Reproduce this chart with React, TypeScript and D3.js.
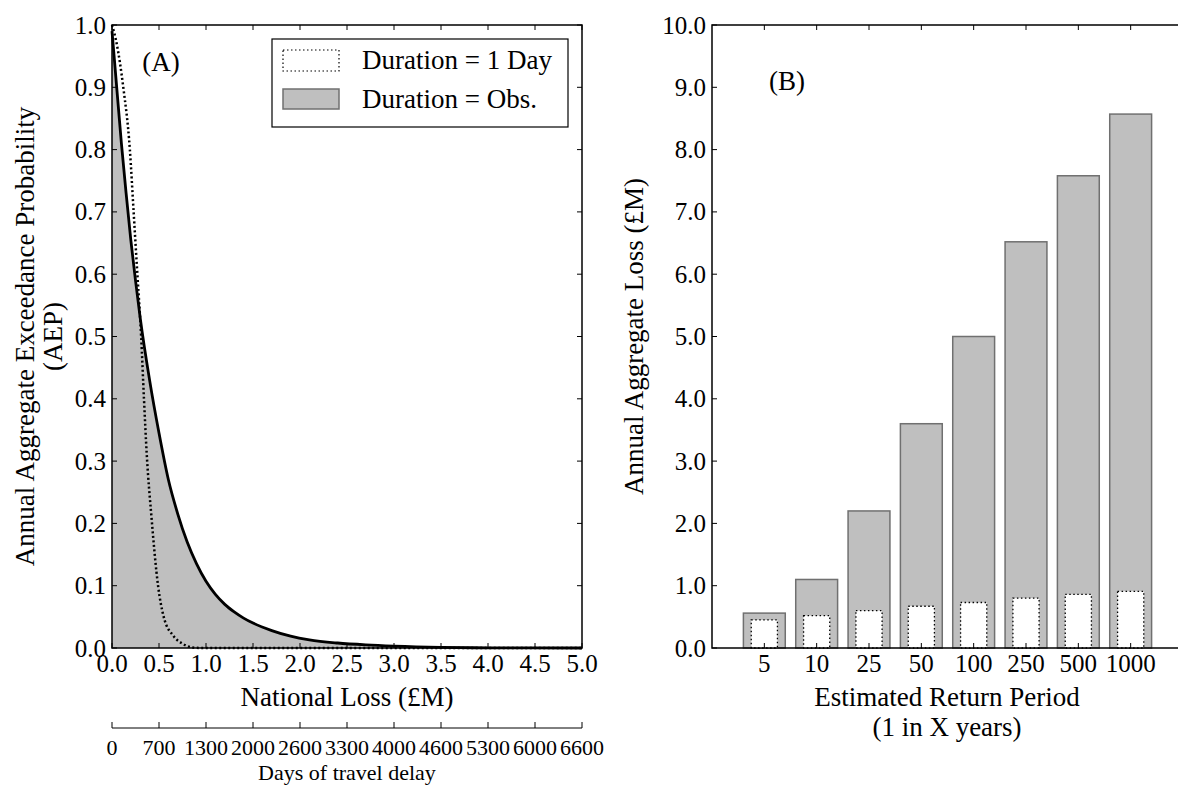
import React from "react";
import * as d3 from "d3";

// Panel A: aggregate exceedance probability curves (loss in £M)
const lossObs = [0, 0.05, 0.1, 0.15, 0.2, 0.25, 0.3, 0.4, 0.5, 0.6, 0.7, 0.8, 0.9, 1.0, 1.1, 1.2, 1.3, 1.4, 1.5, 1.7, 1.9, 2.1, 2.4, 2.7, 3.0, 3.5, 4.0, 5.0];
const aepObs = [0.99, 0.9, 0.81, 0.73, 0.655, 0.59, 0.53, 0.43, 0.345, 0.27, 0.215, 0.17, 0.135, 0.107, 0.086, 0.07, 0.058, 0.048, 0.04, 0.028, 0.019, 0.013, 0.008, 0.005, 0.003, 0.001, 0.0003, 0];
const loss1Day = [0, 0.05, 0.12, 0.19, 0.23, 0.27, 0.31, 0.34, 0.37, 0.42, 0.49, 0.55, 0.65, 0.75, 0.85, 0.95, 5.0];
const aep1Day = [1.0, 0.97, 0.9, 0.8, 0.7, 0.6, 0.5, 0.4, 0.31, 0.21, 0.1, 0.05, 0.02, 0.007, 0.001, 0, 0];
const lossTicks = [0, 0.5, 1, 1.5, 2, 2.5, 3, 3.5, 4, 4.5, 5];
const aepTicks = [0, 0.1, 0.2, 0.3, 0.4, 0.5, 0.6, 0.7, 0.8, 0.9, 1.0];
const delayTicks = ["0", "700", "1300", "2000", "2600", "3300", "4000", "4600", "5300", "6000", "6600"];

// Panel B: annual aggregate loss by return period (£M)
const returnPeriods = ["5", "10", "25", "50", "100", "250", "500", "1000"];
const aalObs = [0.56, 1.1, 2.2, 3.6, 5.0, 6.52, 7.58, 8.57];
const aal1Day = [0.45, 0.52, 0.6, 0.67, 0.73, 0.8, 0.86, 0.91];
const aalTicks = [0, 1, 2, 3, 4, 5, 6, 7, 8, 9, 10];

const FONT = "'Liberation Serif', 'Times New Roman', serif";
const GREY = "#bfbfbf";
const EDGE = "#707070";
const TICK = 5;

export default function App() {
  const top = 25, bottom = 648;
  const xA = d3.scaleLinear().domain([0, 5]).range([112, 582]);
  const yA = d3.scaleLinear().domain([0, 1]).range([bottom, top]);
  const xB = d3.scaleLinear().domain([0, 9]).range([712, 1183]);
  const yB = d3.scaleLinear().domain([0, 10]).range([bottom, top]);
  const xDelay = d3.scalePoint<string>().domain(delayTicks).range([112, 582]);

  const obsPts: [number, number][] = lossObs.map((x, i) => [x, aepObs[i]]);
  const dayPts: [number, number][] = loss1Day.map((x, i) => [x, aep1Day[i]]);

  const line = d3.line<[number, number]>().x(d => xA(d[0])).y(d => yA(d[1])).curve(d3.curveMonotoneX);
  const area = d3.area<[number, number]>().x(d => xA(d[0])).y0(yA(0)).y1(d => yA(d[1])).curve(d3.curveMonotoneX);

  const f1 = d3.format(".1f");
  const tickFs = 25;
  const titleFs = 27;

  return (
    <svg width={1178} height={785} style={{ position: "absolute", left: 0, top: 0, display: "block" }} fontFamily={FONT}>
      <rect x={0} y={0} width={1178} height={785} fill="#fff" />

      {/* ---------- Panel A ---------- */}
      <path d={area(obsPts) || ""} fill={GREY} stroke="none" />
      <path d={line(dayPts) || ""} fill="none" stroke="#000" strokeWidth={2.5} strokeDasharray="2,2.5" />
      <path d={line(obsPts) || ""} fill="none" stroke="#000" strokeWidth={2.8} />

      {lossTicks.map(t => (
        <g key={"ax" + t}>
          <line x1={xA(t)} x2={xA(t)} y1={bottom} y2={bottom - TICK} stroke="#000" strokeWidth={1} />
          <line x1={xA(t)} x2={xA(t)} y1={top} y2={top + TICK} stroke="#000" strokeWidth={1} />
          <text x={xA(t)} y={bottom + 24} fontSize={tickFs} textAnchor="middle">{f1(t)}</text>
        </g>
      ))}
      {aepTicks.map(t => (
        <g key={"ay" + t}>
          <line x1={112} x2={112 + TICK} y1={yA(t)} y2={yA(t)} stroke="#000" strokeWidth={1} />
          <line x1={582} x2={582 - TICK} y1={yA(t)} y2={yA(t)} stroke="#000" strokeWidth={1} />
          <text x={106} y={yA(t) + 8.5} fontSize={tickFs} textAnchor="end">{f1(t)}</text>
        </g>
      ))}
      <rect x={112} y={top} width={470} height={bottom - top} fill="none" stroke="#000" strokeWidth={1.5} />

      <text x={161} y={71} fontSize={titleFs} textAnchor="middle">(A)</text>

      {/* legend */}
      <rect x={272} y={39} width={296} height={88} fill="#fff" stroke="#000" strokeWidth={1.2} />
      <rect x={283} y={50} width={56} height={21} fill="#fff" stroke="#000" strokeWidth={1.2} strokeDasharray="1.5,2.5" />
      <rect x={283} y={89} width={56} height={20} fill={GREY} stroke={EDGE} strokeWidth={1.5} />
      <text x={362} y={69} fontSize={titleFs}>Duration = 1 Day</text>
      <text x={362} y={108} fontSize={titleFs}>Duration = Obs.</text>

      <text x={347} y={706} fontSize={titleFs} textAnchor="middle">National Loss (£M)</text>
      <text transform={`translate(34,${(top + bottom) / 2}) rotate(-90)`} fontSize={titleFs} textAnchor="middle">Annual Aggregate Exceedance Probability</text>
      <text transform={`translate(62,${(top + bottom) / 2}) rotate(-90)`} fontSize={titleFs} textAnchor="middle">(AEP)</text>

      {/* secondary axis: days of travel delay */}
      <line x1={112} x2={582} y1={728} y2={728} stroke="#000" strokeWidth={1} />
      {delayTicks.map(t => (
        <g key={"d" + t}>
          <line x1={xDelay(t)} x2={xDelay(t)} y1={728} y2={722} stroke="#000" strokeWidth={1} />
          <text x={xDelay(t)} y={755} fontSize={22} textAnchor="middle">{t}</text>
        </g>
      ))}
      <text x={347} y={780} fontSize={22} textAnchor="middle">Days of travel delay</text>

      {/* ---------- Panel B ---------- */}
      {returnPeriods.map((rp, i) => {
        const c = i + 1;
        return (
          <g key={"b" + rp}>
            <rect x={xB(c - 0.4)} y={yB(aalObs[i])} width={xB(c + 0.4) - xB(c - 0.4)} height={bottom - yB(aalObs[i])} fill={GREY} stroke={EDGE} strokeWidth={1.5} />
            <rect x={xB(c - 0.25)} y={yB(aal1Day[i])} width={xB(c + 0.25) - xB(c - 0.25)} height={bottom - yB(aal1Day[i])} fill="#fff" stroke="#000" strokeWidth={1.3} strokeDasharray="1.5,2.5" />
            <line x1={xB(c)} x2={xB(c)} y1={bottom} y2={bottom - TICK} stroke="#000" strokeWidth={1} />
            <line x1={xB(c)} x2={xB(c)} y1={top} y2={top + TICK} stroke="#000" strokeWidth={1} />
            <text x={xB(c)} y={bottom + 24} fontSize={tickFs} textAnchor="middle">{rp}</text>
          </g>
        );
      })}
      {aalTicks.map(t => (
        <g key={"by" + t}>
          <line x1={712} x2={712 + TICK} y1={yB(t)} y2={yB(t)} stroke="#000" strokeWidth={1} />
          <line x1={1183} x2={1183 - TICK} y1={yB(t)} y2={yB(t)} stroke="#000" strokeWidth={1} />
          <text x={706} y={yB(t) + 8.5} fontSize={tickFs} textAnchor="end">{f1(t)}</text>
        </g>
      ))}
      <rect x={712} y={top} width={471} height={bottom - top} fill="none" stroke="#000" strokeWidth={1.5} />

      <text x={787} y={90} fontSize={titleFs} textAnchor="middle">(B)</text>
      <text x={947} y={706} fontSize={titleFs} textAnchor="middle">Estimated Return Period</text>
      <text x={947} y={736} fontSize={titleFs} textAnchor="middle">(1 in X years)</text>
      <text transform={`translate(643,${(top + bottom) / 2}) rotate(-90)`} fontSize={titleFs} textAnchor="middle">Annual Aggregate Loss (£M)</text>
    </svg>
  );
}
